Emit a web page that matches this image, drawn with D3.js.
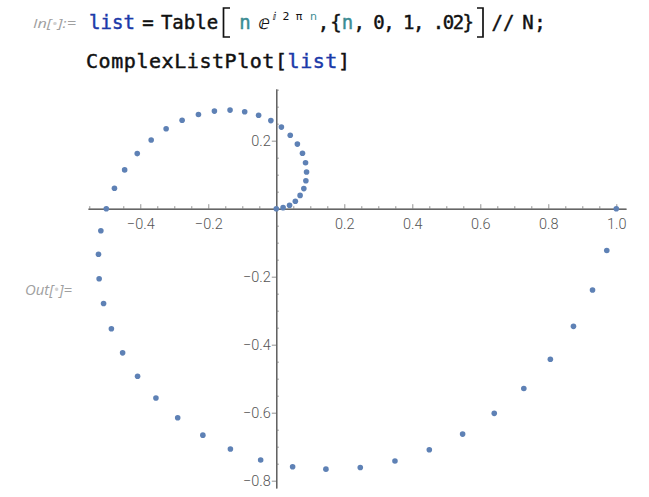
<!DOCTYPE html>
<html><head><meta charset="utf-8">
<script src="https://cdn.jsdelivr.net/npm/d3@7"></script>
<style>body{margin:0;background:#fff}svg{display:block}</style>
</head><body>
<script>
// n = 0, .02, ..., 1 ; points z = n e^(i 2 pi n)
const nValues = [0,0.02,0.04,0.06,0.08,0.10,0.12,0.14,0.16,0.18,0.20,0.22,0.24,0.26,0.28,0.30,0.32,0.34,0.36,0.38,0.40,0.42,0.44,0.46,0.48,0.50,0.52,0.54,0.56,0.58,0.60,0.62,0.64,0.66,0.68,0.70,0.72,0.74,0.76,0.78,0.80,0.82,0.84,0.86,0.88,0.90,0.92,0.94,0.96,0.98,1.00];
const reValues = [0,0.020,0.039,0.056,0.070,0.081,0.087,0.089,0.086,0.077,0.062,0.041,0.015,-0.016,-0.052,-0.093,-0.136,-0.182,-0.229,-0.277,-0.324,-0.368,-0.409,-0.446,-0.476,-0.500,-0.516,-0.523,-0.521,-0.508,-0.485,-0.452,-0.408,-0.354,-0.290,-0.216,-0.135,-0.046,0.048,0.146,0.247,0.349,0.450,0.548,0.641,0.728,0.806,0.874,0.930,0.972,1.000];
const imValues = [0,0.003,0.010,0.022,0.039,0.059,0.082,0.108,0.135,0.163,0.190,0.216,0.240,0.259,0.275,0.285,0.290,0.287,0.277,0.260,0.235,0.202,0.162,0.114,0.060,0,-0.065,-0.134,-0.206,-0.279,-0.353,-0.424,-0.493,-0.557,-0.615,-0.666,-0.707,-0.739,-0.759,-0.766,-0.761,-0.742,-0.709,-0.663,-0.602,-0.529,-0.443,-0.346,-0.239,-0.123,0];
const xMajorTicks = [-0.4,-0.2,0.2,0.4,0.6,0.8,1.0];
const yMajorTicks = [0.2,-0.2,-0.4,-0.6,-0.8];
const xMinorTicks = [-0.55,-0.5,-0.45,-0.35,-0.3,-0.25,-0.15,-0.1,-0.05,0.05,0.1,0.15,0.25,0.3,0.35,0.45,0.5,0.55,0.65,0.7,0.75,0.85,0.9,0.95];
const yMinorTicks = [0.35,0.3,0.25,0.15,0.1,0.05,-0.05,-0.1,-0.15,-0.25,-0.3,-0.35,-0.45,-0.5,-0.55,-0.65,-0.7,-0.75];

const W = 649, H = 497;
const svg = d3.select("body").append("svg").attr("width", W).attr("height", H);

// ---- input cell text ----
const mono = "'DejaVu Sans Mono','Liberation Mono',monospace";
const blue = "#1c3aa9", teal = "#3b8c93", ink = "#111";
svg.append("text").attr("x", 33).attr("y", 28)
  .attr("font-family", "'Open Sans','Liberation Sans',sans-serif").attr("font-style", "italic")
  .attr("font-size", 12.5).attr("fill", "#a0a0a0").attr("textLength", 43).attr("lengthAdjust", "spacingAndGlyphs")
  .html('In[<tspan fill="#d0d0d0">•</tspan>]:=');

// line 1 pieces, each its own text so none overlap
const line1Tokens = [
  ["list", 112, blue], ["=", 148], ["Table", 189.5], ["n", 245, teal],
  [",", 323.5], ["{", 336], ["n", 347.5, teal],
  ["//", 503], ["N", 528], [";", 540]
];
line1Tokens.forEach(([t, px, col]) => {
  svg.append("text").attr("x", px).attr("y", 29).attr("font-family", mono).attr("font-size", 19)
    .attr("text-anchor", "middle").attr("stroke-width", 0.45)
    .attr("fill", col || ink).attr("stroke", col || ink).text(t);
});
svg.append("text").attr("x", 264).attr("y", 29).attr("text-anchor", "middle")
  .attr("font-family", "'DejaVu Sans',sans-serif").attr("font-size", 19).attr("fill", ink).text("ⅇ");
const sup = svg.append("text").attr("y", 19.5).attr("font-family", "'DejaVu Sans',sans-serif")
  .attr("font-size", 11).attr("text-anchor", "middle");
sup.append("tspan").attr("x", 274.5).attr("fill", ink).text("ⅈ");
sup.append("tspan").attr("x", 286).attr("fill", ink).text("2");
sup.append("tspan").attr("x", 299).attr("fill", ink).text("π");
sup.append("tspan").attr("x", 313.5).attr("fill", teal).text("n");
svg.append("text").attr("x", 353.5).attr("y", 29).attr("font-family", mono).attr("font-size", 19)
  .attr("fill", ink).attr("stroke", ink).attr("stroke-width", 0.45)
  .attr("textLength", 120.5).attr("lengthAdjust", "spacing")
  .text(", 0, 1, .02}");
svg.append("path").attr("d", "M230,8H223.5V37H230").attr("fill", "none").attr("stroke", ink).attr("stroke-width", 1.7);
svg.append("path").attr("d", "M477,8H483V37H477").attr("fill", "none").attr("stroke", ink).attr("stroke-width", 1.7);

svg.append("text").attr("x", 86).attr("y", 68).attr("font-family", mono).attr("font-size", 20)
  .attr("fill", ink).attr("stroke", ink).attr("stroke-width", 0.45)
  .attr("textLength", 264).attr("lengthAdjust", "spacing")
  .html('ComplexListPlot[<tspan fill="' + blue + '" stroke="' + blue + '">list</tspan>]');

svg.append("text").attr("x", 25).attr("y", 295)
  .attr("font-family", "'Open Sans','Liberation Sans',sans-serif").attr("font-style", "italic")
  .attr("font-size", 14).attr("fill", "#a0a0a0").attr("textLength", 47).attr("lengthAdjust", "spacingAndGlyphs")
  .html('Out[<tspan fill="#d0d0d0">•</tspan>]=');

// ---- plot ----
const x = d3.scaleLinear().domain([-0.5538, 1.0285]).range([88, 626]);
const y = d3.scaleLinear().domain([0.352, -0.8215]).range([89, 488]);
const fmt = d3.format(".1f");
const labelFont = "Roboto,'Liberation Sans',sans-serif";
const axisCol = "#555", tickCol = "#777", labCol = "#555";

const gx = svg.append("g").attr("transform", `translate(0,${y(0)})`)
  .call(d3.axisBottom(x).tickValues(xMajorTicks).tickFormat(fmt).tickSizeInner(-4.5).tickSizeOuter(0).tickPadding(9));
const gxm = svg.append("g").attr("transform", `translate(0,${y(0)})`)
  .call(d3.axisBottom(x).tickValues(xMinorTicks).tickFormat("").tickSizeInner(-2.5).tickSizeOuter(0));
const gy = svg.append("g").attr("transform", `translate(${x(0)},0)`)
  .call(d3.axisLeft(y).tickValues(yMajorTicks).tickFormat(fmt).tickSizeInner(4.5).tickSizeOuter(0).tickPadding(1));
const gym = svg.append("g").attr("transform", `translate(${x(0)},0)`)
  .call(d3.axisLeft(y).tickValues(yMinorTicks).tickFormat("").tickSizeInner(-2.5).tickSizeOuter(0));

[gx, gxm, gy, gym].forEach(g => {
  g.select(".domain").attr("stroke", axisCol).attr("stroke-width", 1);
  g.selectAll(".tick line").attr("stroke", tickCol).attr("stroke-width", 0.8);
  g.selectAll(".tick text").attr("fill", labCol).attr("font-family", labelFont)
    .attr("font-weight", 300).attr("font-size", 14.5);
});
gx.selectAll(".tick text").attr("dy", "0.75em");
gy.selectAll(".tick text").attr("dy", "0.35em");

const pts = nValues.map((n, i) => ({n, re: reValues[i], im: imValues[i]}));
svg.append("g").selectAll("circle").data(pts).enter().append("circle")
  .attr("cx", d => x(d.re)).attr("cy", d => y(d.im)).attr("r", 2.8)
  .attr("fill", "#5e81b5");
</script>
</body></html>
